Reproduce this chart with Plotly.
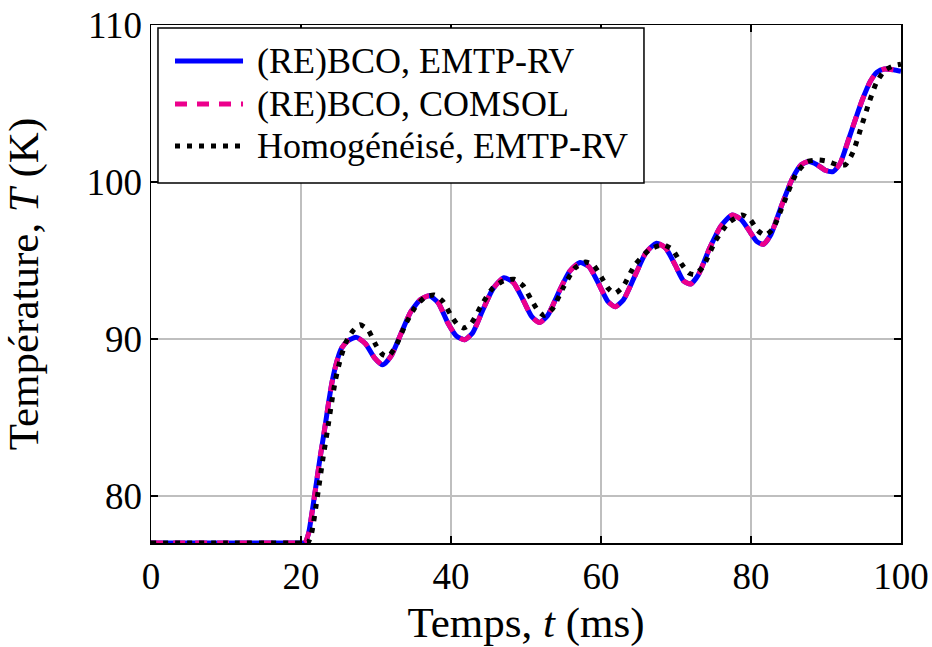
import plotly.graph_objects as go

# Blue / pink: (RE)BCO results (EMTP-RV and COMSOL coincide)
t_rebco = [0, 10, 20.0, 20.5, 21.0, 21.8, 22.5, 23.1, 23.7, 24.2, 24.8, 25.4, 26.3, 27.4, 28.6, 29.8, 30.9,
           32.0, 33.3, 34.6, 35.9, 37.1, 38.3, 39.6, 40.7, 41.8, 42.9, 44.2, 45.6, 47.05, 48.3,
           49.6, 50.8, 51.8, 52.9, 54.3, 55.8, 57.2, 58.4, 59.7, 60.9, 61.9, 63.0, 64.5, 66.0,
           67.4, 68.6, 69.9, 71.0, 71.95, 73.0, 74.5, 76.0, 77.5, 78.7, 79.9, 80.8, 81.65, 82.6,
           84.0, 85.5, 86.7, 87.7, 88.8, 89.9, 90.95, 91.9, 93.0, 94.0, 94.9, 95.9, 96.8, 97.8,
           99.0, 100]
T_emtp = [77, 77, 77, 77, 77.6, 80, 82.3, 84.1, 86.0, 87.4, 88.6, 89.4, 89.9, 90.1, 89.7, 88.8, 88.35,
          88.9, 90.3, 91.7, 92.5, 92.75, 92.3, 91.0, 90.2, 89.95, 90.4, 91.8, 93.2, 93.9, 93.6,
          92.5, 91.4, 91.05, 91.5, 92.9, 94.3, 94.87, 94.6, 93.5, 92.4, 92.05, 92.5, 94.0, 95.5,
          96.1, 95.8, 94.7, 93.7, 93.5, 94.1, 95.8, 97.2, 97.9, 97.6, 96.8, 96.2, 96.03, 96.6,
          98.4, 100.2, 101.1, 101.3, 101.1, 100.75, 100.66, 101.2, 102.7, 104.1, 105.3, 106.4,
          107.0, 107.2, 107.15, 107.05]
T_comsol = list(T_emtp)

# Black dotted: homogenised model
t_homog = [0, 10, 20.4, 20.9, 21.4, 22.2, 22.9, 23.5, 24.1, 24.6, 25.3, 26.0, 26.9, 27.85, 28.9, 30.0,
           30.9, 31.65, 32.6, 33.9, 35.2, 36.5, 37.75, 38.9, 40.0, 40.9, 41.7, 42.7, 44.0, 45.5,
           47.0, 48.4, 49.6, 50.7, 51.6, 52.4, 53.5, 55.0, 56.5, 57.9, 59.0, 60.1, 61.0, 61.8,
           62.9, 64.5, 66.5, 68.3, 69.5, 70.7, 71.7, 72.5, 73.6, 75.2, 77.0, 78.8, 79.9, 80.9,
           81.9, 82.9, 84.4, 86.0, 87.5, 89.0, 90.3, 91.5, 92.6, 93.6, 94.7, 95.7, 96.7, 97.8,
           99.0, 100]
T_homog = [77, 77, 77, 77, 77.6, 80, 82.3, 84.1, 86.0, 87.4, 88.8, 89.8, 90.5, 90.9, 90.6, 89.6,
           89.0, 88.9, 89.5, 90.9, 92.0, 92.65, 92.8, 92.4, 91.5, 90.9, 90.7, 91.0, 92.1, 93.2,
           93.7, 93.8, 93.4, 92.5, 91.8, 91.5, 91.9, 93.3, 94.5, 94.9, 94.7, 93.9, 93.2, 92.9,
           93.3, 94.7, 95.7, 96.0, 95.7, 94.8, 94.2, 94.1, 94.6, 96.2, 97.4, 97.9, 97.6, 96.9,
           96.6, 97.0, 98.7, 100.5, 101.3, 101.4, 101.3, 101.1, 101.1, 101.9, 103.5, 105.0,
           106.3, 107.1, 107.4, 107.5]

x_ticks = [0, 20, 40, 60, 80, 100]
y_ticks = [80, 90, 100, 110]

series_names = ["(RE)BCO, EMTP-RV", "(RE)BCO, COMSOL", "Homogénéisé, EMTP-RV"]
series_colors = ["#0000FF", "#EC008C", "#000000"]
series_dashes = ["solid", "12px,10px", "5px,7px"]

FONT = "Liberation Serif"

fig = go.Figure()
for name, xs, ys, col, dash in zip(series_names, [t_rebco, t_rebco, t_homog],
                                   [T_emtp, T_comsol, T_homog], series_colors, series_dashes):
    fig.add_trace(go.Scatter(x=xs, y=ys, mode="lines", name=name, showlegend=False,
                             line=dict(color=col, width=5, dash=dash, shape="spline",
                                       smoothing=0.6)))

axis_common = dict(showline=True, linecolor="#000000", linewidth=1.5, mirror="allticks",
                   ticks="inside", ticklen=7, tickcolor="#000000", tickwidth=1.2,
                   showgrid=True, gridcolor="#BFBFBF", gridwidth=1.5, zeroline=False,
                   automargin=False, ticklabeloverflow="allow",
                   tickfont=dict(family=FONT, size=37, color="#000000"))

fig.update_xaxes(range=[0, 100], tickvals=x_ticks, ticktext=[str(v) for v in x_ticks],
                 title=dict(text="Temps, <i>t</i> (ms)", font=dict(family=FONT, size=43, color="#000"),
                            standoff=15),
                 **axis_common)
fig.update_yaxes(range=[77, 110], tickvals=y_ticks, ticktext=[str(v) for v in y_ticks],
                 title=dict(text="Température, <i>T</i> (K)", font=dict(family=FONT, size=43, color="#000"),
                            standoff=35),
                 **axis_common)

# Manual legend (paper coordinates = plot area)
shapes = [dict(type="rect", xref="paper", yref="paper", x0=0.0093, x1=0.6573, y0=0.695, y1=0.9942,
               line=dict(color="#000000", width=1.5), fillcolor="white", layer="above")]
annotations = []
row_y = [0.9305, 0.8475, 0.7664]
for name, col, dash, ry in zip(series_names, series_colors, series_dashes, row_y):
    shapes.append(dict(type="line", xref="paper", yref="paper", x0=0.032, x1=0.1227, y0=ry, y1=ry,
                       line=dict(color=col, width=5, dash=dash), layer="above"))
    annotations.append(dict(xref="paper", yref="paper", x=0.139, y=ry, xanchor="left", yanchor="middle",
                            text=name, showarrow=False,
                            font=dict(family=FONT, size=36, color="#000000")))

fig.update_layout(
    width=932, height=647,
    margin=dict(l=151, r=31, t=25, b=104, autoexpand=False),
    paper_bgcolor="white", plot_bgcolor="white",
    font=dict(family=FONT, color="#000000"),
    shapes=shapes, annotations=annotations,
    showlegend=False,
)

fig.write_html("out.html", config={"displayModeBar": False, "staticPlot": True},
               post_script="document.body.style.margin='0';document.body.style.overflow='hidden';")
